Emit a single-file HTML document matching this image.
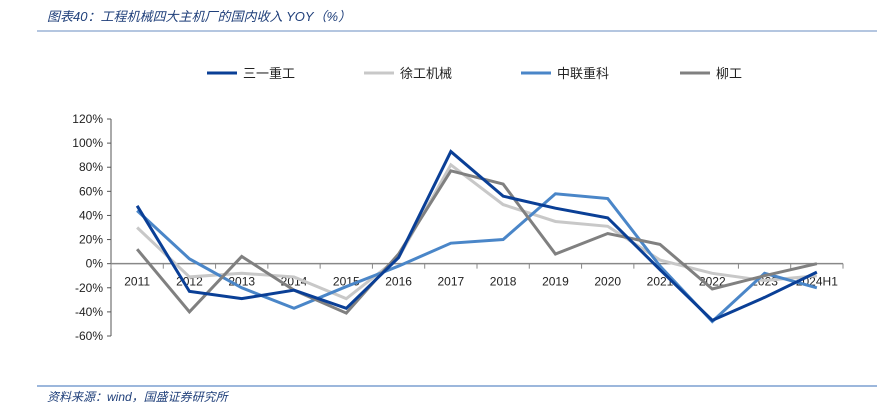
<!DOCTYPE html>
<html><head><meta charset="utf-8"><style>
body{margin:0;background:#fff;width:877px;height:414px;overflow:hidden;font-family:"Liberation Sans","Noto Sans CJK SC",sans-serif}
</style></head><body>
<svg id="c" width="877" height="414" xmlns="http://www.w3.org/2000/svg">
<text x="47" y="21" font-size="13" font-style="italic" fill="#1f3f7a" font-family="Liberation Sans,Noto Sans CJK SC,sans-serif">图表40：工程机械四大主机厂的国内收入 YOY（%）</text>
<line x1="37" y1="31" x2="877" y2="31" stroke="#6a8cc0" stroke-width="1"/>
<line x1="37" y1="386" x2="877" y2="386" stroke="#3a6fb8" stroke-width="1"/>
<text x="47" y="401" font-size="12" font-style="italic" fill="#1f3f7a" font-family="Liberation Sans,Noto Sans CJK SC,sans-serif">资料来源：wind，国盛证券研究所</text>
<g id="legend"></g><g id="axes"></g><g id="series"></g>
</svg>
<script>
const categories=["2011","2012","2013","2014","2015","2016","2017","2018","2019","2020","2021","2022","2023","2024H1"];
const seriesNames=["三一重工","徐工机械","中联重科","柳工"];
const sany=[48,-23,-29,-22,-37,5,93,56,46,38,-5,-47,-28,-7];
const xcmg=[30,-11,-8,-11,-29,5,82,49,35,31,3,-8,-14,-10];
const zoomlion=[44,4,-20,-37,-19,-2,17,20,58,54,-2,-48,-8,-20];
const liugong=[12,-40,6,-22,-41,8,77,66,8,25,16,-21,-10,0];
const yTicks=[120,100,80,60,40,20,0,-20,-40,-60];
const colors=["#0a3f96","#c8c8c8","#4a86c8","#808080"];
const NS="http://www.w3.org/2000/svg";
const x0=111,x1=843,yTop=119,yBot=336;
const step=(x1-x0)/categories.length;
const xS=i=>x0+step*(i+0.5);
const yS=v=>yTop+(120-v)/180*(yBot-yTop);
function mk(t,a,p){const e=document.createElementNS(NS,t);for(const k in a)e.setAttribute(k,a[k]);p.appendChild(e);return e;}
const ax=document.getElementById('axes');
let yl=mk('line',{x1:x0,y1:yTop,x2:x0,y2:yBot,stroke:'#555','stroke-width':1},ax);


yTicks.forEach(v=>{
 const tk=mk('line',{x1:x0-4,y1:yS(v),x2:x0,y2:yS(v),stroke:'#555'},ax);
 
 
 const t=mk('text',{x:x0-8,y:yS(v)+4,'text-anchor':'end','font-size':12,fill:'#222'},ax);
 t.textContent=v+'%';
 
 
});
const z=yS(0);
let xl=mk('line',{x1:x0,y1:z,x2:x1,y2:z,stroke:'#888','stroke-width':1.5},ax);


for(let i=0;i<=categories.length;i++){
 const tk=mk('line',{x1:x0+step*i,y1:z,x2:x0+step*i,y2:z+5,stroke:'#888'},ax);
 
 
}
categories.forEach((c,i)=>{
 const t=mk('text',{x:xS(i),y:z+22,'text-anchor':'middle','font-size':12,fill:'#222'},ax);
 t.textContent=c;
 
 
});
const sg=document.getElementById('series');
[xcmg,zoomlion,liugong,sany].forEach((d,k)=>{
 const idx=[1,2,3,0][k];
 const p=mk('polyline',{points:d.map((v,i)=>xS(i)+','+yS(v)).join(' '),fill:'none',stroke:colors[idx],'stroke-width':3,'stroke-linejoin':'miter'},sg);
 
 
});
const lg=document.getElementById('legend');
const lx=[207,364,521,680];
seriesNames.forEach((n,i)=>{
 const l=mk('line',{x1:lx[i],y1:73,x2:lx[i]+30,y2:73,stroke:colors[i],'stroke-width':3},lg);
 
 
 const t=mk('text',{x:lx[i]+36,y:78,'font-size':13,fill:'#222'},lg);
 t.textContent=n;
 
 
});
</script>
</body></html>
